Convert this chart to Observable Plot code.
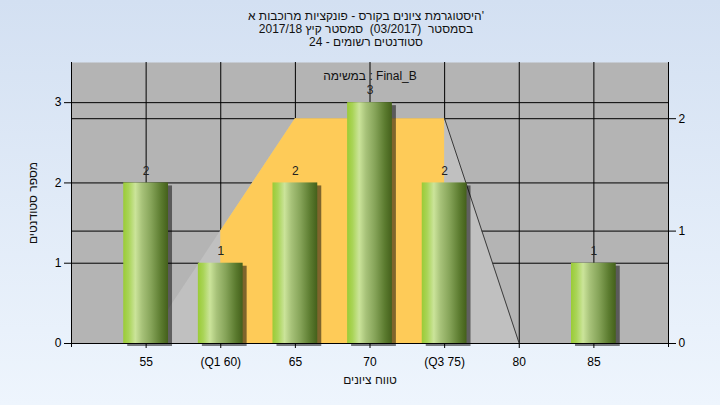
<!DOCTYPE html>
<html>
<head>
<meta charset="utf-8">
<script src="https://cdn.jsdelivr.net/npm/d3@7"></script>
<script src="https://cdn.jsdelivr.net/npm/@observablehq/plot@0.6"></script>
<style>
  html, body { margin: 0; padding: 0; }
  #wrap { position: relative; width: 720px; height: 405px; overflow: hidden;
          background: linear-gradient(#d3e0f2, #eef5fd);
          font-family: "Liberation Sans", Arial, "DejaVu Sans", sans-serif; }
  #title { position: absolute; left: 0; top: 10px; width: 732px; text-align: center;
           font-size: 12px; line-height: 13px; color: #111; z-index: 2; white-space: pre; }
  #chart { position: absolute; left: 0; top: 0; }
</style>
</head>
<body>
<div id="wrap">
  <div id="title"></div>
  <div id="chart"></div>
</div>
<script>
// ---- data ----
const titleLines = [
  "היסטוגרמת ציונים בקורס - פונקציות מרוכבות א'",
  "בסמסטר  (03/2017)  סמסטר קיץ 2017/18",
  "סטודנטים רשומים - 24"
];
const innerLabel = "במשימה : Final_B";
const xTitle = "טווח ציונים";
const yTitle = "מספר סטודנטים";

const grades = [55, 60, 65, 70, 75, 80, 85];
const gradeLabels = ["55", "(Q1 60)", "65", "70", "(Q3 75)", "80", "85"];
const counts = [2, 1, 2, 3, 2, 0, 1];

// distribution shape (right axis units)
const shapeX = [55, 60, 65, 75, 80];
const shapeY = [0, 1, 2, 2, 0];
// inter-quartile band (right axis units)
const iqrX = [60, 65, 75];
const iqrY = [1, 2, 2];

const leftTicks = [0, 1, 2, 3];
const rightTicks = [0, 1, 2];
const leftMax = 3.5, rightMax = 2.5;
const binHalfWidth = 1.5;
const gridStep = 5;
const xDomain = [50, 90];

// ---- build ----
document.getElementById("title").innerHTML = titleLines.map(t => `<div>${t}</div>`).join("");

const K = leftMax / rightMax;
const bars = grades.map((g, i) => ({g, c: counts[i]}));
const shape = shapeX.map((x, i) => ({x, y: shapeY[i] * K}));
const iqr = iqrX.map((x, i) => ({x, y: iqrY[i] * K}));
const q3 = iqrX[iqrX.length - 1];

const chart = Plot.plot({
  width: 720, height: 405,
  marginLeft: 71, marginRight: 52, marginTop: 62, marginBottom: 62,
  style: {background: "transparent", fontFamily: "'Liberation Sans', Arial, 'DejaVu Sans', sans-serif", fontSize: "12px", color: "#000", overflow: "visible"},
  x: {domain: xDomain, label: null},
  y: {domain: [0, leftMax], label: null},
  marks: [
    Plot.frame({fill: "#b4b4b4", stroke: null}),
    Plot.ruleX(d3.range(xDomain[0], xDomain[1] + 1, gridStep), {stroke: "#000"}),
    Plot.ruleY(leftTicks.filter(d => d > 0), {stroke: "#000"}),
    Plot.ruleY(rightTicks.filter(d => d > 0).map(d => d * K), {stroke: "#000"}),
    Plot.areaY(shape, {x: "x", y1: 0, y2: "y", fill: "#c0c0c0", curve: "linear"}),
    Plot.areaY(iqr, {x: "x", y1: 0, y2: "y", fill: "#fecb58", curve: "linear"}),
    Plot.line(shape.filter(d => d.x >= q3), {x: "x", y: "y", stroke: "#3a3a3a", strokeWidth: 1}),
    Plot.rectY(bars.filter(d => d.c > 0), {x1: d => d.g - binHalfWidth, x2: d => d.g + binHalfWidth, y1: 0, y2: "c",
      fill: "#000", fillOpacity: 0.5, dx: 4, dy: 3, ariaLabel: "shadow"}),
    Plot.rectY(bars.filter(d => d.c > 0), {x1: d => d.g - binHalfWidth, x2: d => d.g + binHalfWidth, y1: 0, y2: "c",
      fill: "url(#barGrad)", ariaLabel: "bars"}),
    Plot.text(bars.filter(d => d.c > 0), {x: "g", y: "c", text: d => String(d.c), dy: -12, fontSize: 12, fill: "#222"}),
    Plot.text([innerLabel], {text: d => d, frameAnchor: "top", lineAnchor: "middle", dy: 14, fontSize: 12, fill: "#111"}),
    Plot.text([xTitle], {text: d => d, frameAnchor: "bottom", lineAnchor: "middle", textAnchor: "middle", dy: 37, fontSize: 12, fill: "#111"}),
    Plot.text([yTitle], {text: d => d, frameAnchor: "left", lineAnchor: "middle", textAnchor: "middle", rotate: -90, dx: -38, fontSize: 12, fill: "#111"}),
    Plot.ruleY([0], {stroke: "#000"}),
    Plot.ruleX(xDomain, {stroke: "#000", insetBottom: -4}),
    Plot.axisX({ticks: grades, tickFormat: (d) => gradeLabels[grades.indexOf(d)], tickSize: 5, tickPadding: 9, label: null, fontSize: 12}),
    Plot.axisY({ticks: leftTicks, tickFormat: d => String(d), tickSize: 7, tickPadding: 3, label: null, fontSize: 12}),
    Plot.axisY({anchor: "right", ticks: rightTicks.map(d => d * K), tickFormat: d => String(Math.round(d / K)),
      tickSize: 7, tickPadding: 3, label: null, fontSize: 12})
  ]
});

const svg = d3.select(chart);
const defs = svg.insert("defs", ":first-child");
const grad = defs.append("linearGradient").attr("id", "barGrad")
  .attr("x1", 0).attr("y1", 0).attr("x2", 1).attr("y2", 0);
[[0, "#9acb36"], [0.12, "#a9d457"], [0.27, "#cbe49a"], [0.42, "#a7c279"], [0.62, "#86a459"], [0.85, "#5a7a2e"], [1, "#44601b"]]
  .forEach(([o, c]) => grad.append("stop").attr("offset", o).attr("stop-color", c));
const filt = defs.append("filter").attr("id", "shadowBlur").attr("x", "-20%").attr("y", "-20%").attr("width", "140%").attr("height", "140%");
filt.append("feGaussianBlur").attr("stdDeviation", 1.6);
svg.select('g[aria-label="shadow"]').attr("filter", "url(#shadowBlur)");

document.getElementById("chart").appendChild(chart);
</script>
</body>
</html>
